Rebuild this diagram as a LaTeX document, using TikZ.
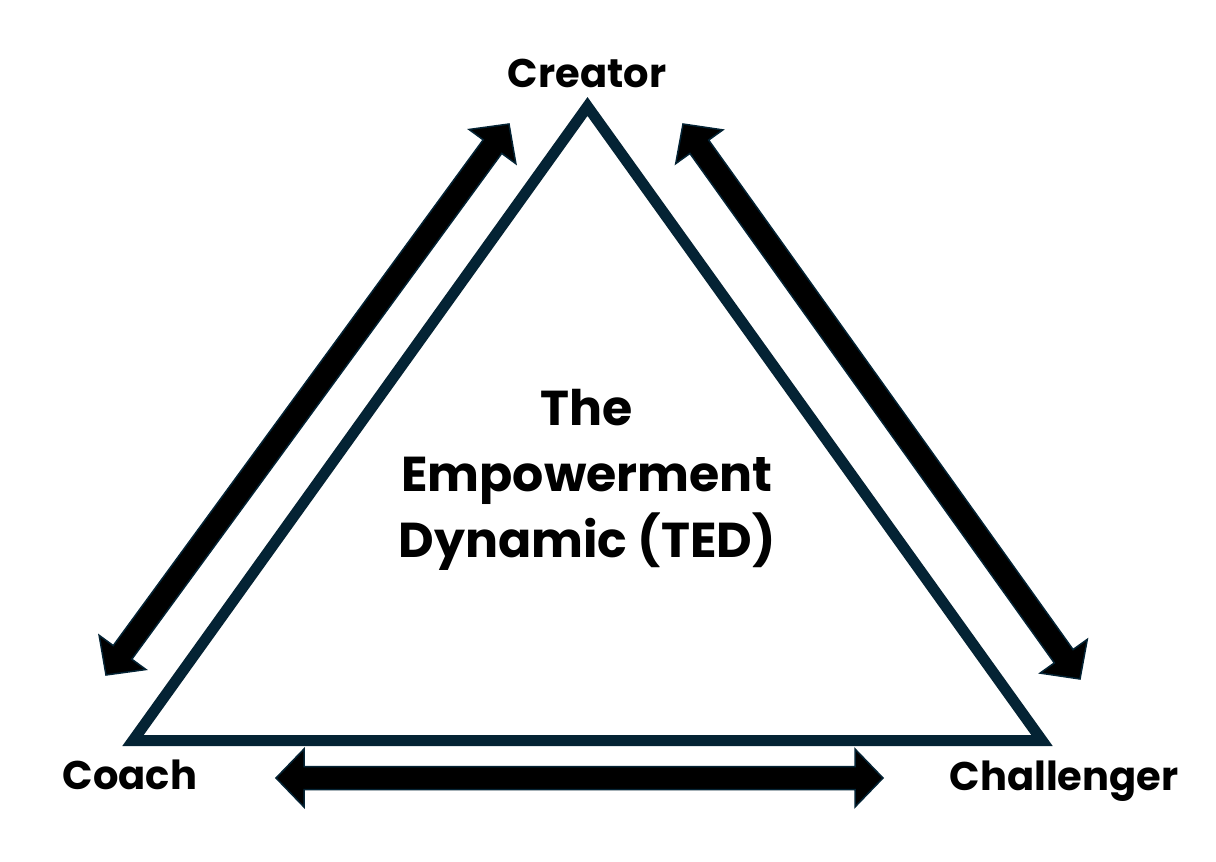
\documentclass[tikz,border=0pt]{standalone}
\usepackage{fontspec}
\setmainfont{Poppins}
\usetikzlibrary{calc}
\definecolor{navy}{RGB}{4,35,52}
\tikzset{
  corner/.style={font=\bfseries\fontsize{20}{24}\selectfont,inner sep=0pt,anchor=base},
  dblarrow/.style={draw=navy,line width=.75pt,fill=black,line join=miter,
    to path={let \p1=($(\tikztostart)!14pt!(\tikztotarget)$),
                 \p2=($(\tikztotarget)!14pt!(\tikztostart)$) in
      -- ($(\p1)!14.5pt!90:(\tikztotarget)$) -- ($(\p1)!5.75pt!90:(\tikztotarget)$)
      -- ($(\p2)!5.75pt!-90:(\tikztostart)$) -- ($(\p2)!14.5pt!-90:(\tikztostart)$)
      -- (\tikztotarget)
      -- ($(\p2)!14.5pt!90:(\tikztostart)$) -- ($(\p2)!5.75pt!90:(\tikztostart)$)
      -- ($(\p1)!5.75pt!-90:(\tikztotarget)$) -- ($(\p1)!14.5pt!-90:(\tikztotarget)$)
      -- cycle}}
}
\begin{document}
\begin{tikzpicture}[x=.5pt,y=-.5pt,line join=miter]
  \useasboundingbox (0,0) rectangle (1216,862);
  % triangle
  \coordinate (top) at (587.5,106.5);
  \coordinate (cl) at (133,740.5);
  \coordinate (cr) at (1042,740.5);
  \draw[navy,line width=5.5pt] (top)--(cl)--(cr)--cycle;
  % arrow tips
  \coordinate (ltop) at (509,124);
  \coordinate (lbot) at (106,675);
  \coordinate (rtop) at (683,124);
  \coordinate (rbot) at (1080,679);
  \coordinate (bl) at (276,778);
  \coordinate (br) at (883,778);
  \draw[dblarrow] (lbot) to (ltop);
  \draw[dblarrow] (rtop) to (rbot);
  \draw[dblarrow] (bl) to (br);
  % labels
  \node[corner] (creator) at (587,87) {Creator};
  \node[corner] (coach) at (130,789) {Coach};
  \node[corner] (challenger) at (1064,790) {Challenger};
  \node[font=\bfseries\fontsize{24.5}{33}\selectfont,align=center,inner sep=0pt] (ted) at (587,480)
    {The\\Empowerment\\Dynamic (TED)};
\end{tikzpicture}
\end{document}
